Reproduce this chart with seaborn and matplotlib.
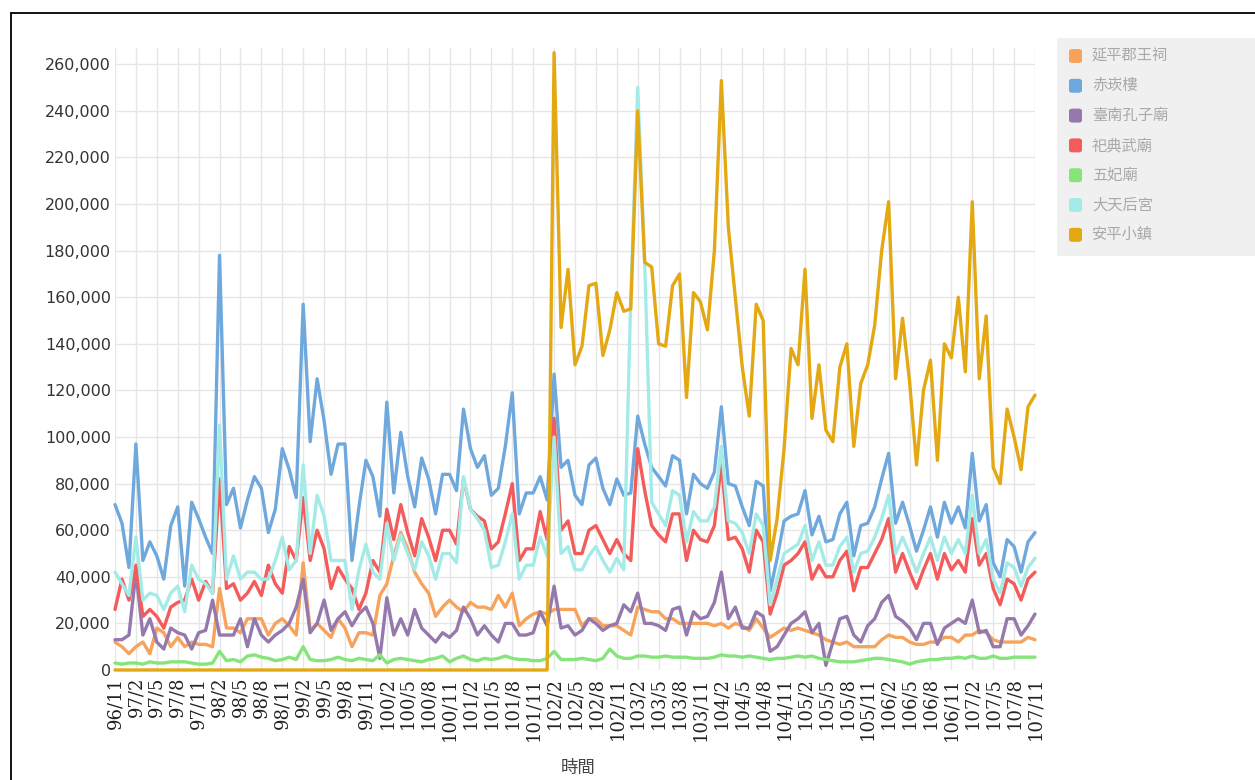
import matplotlib
matplotlib.use("Agg")
import matplotlib.pyplot as plt
import seaborn as sns
import pandas as pd
from matplotlib.patches import Rectangle, FancyBboxPatch
from matplotlib.lines import Line2D
from matplotlib.ticker import FuncFormatter

# month labels, ROC years: 96/11 .. 107/11
months = []
yy, mm = 96, 11
while (yy, mm) <= (107, 11):
    months.append(f"{yy}/{mm}")
    mm += 1
    if mm > 12:
        yy, mm = yy + 1, 1

site_names = ["延平郡王祠", "赤崁樓", "臺南孔子廟", "祀典武廟", "五妃廟", "大天后宮", "安平小鎮"]
site_colors = ["#f7a35c", "#6fa8dc", "#9579ad", "#f45b5b", "#86e57a", "#a4ebe8", "#e3a812"]

# monthly visitors, in thousands
yanping = [12, 10, 7, 10, 12, 7, 18, 16, 10, 14,
           10, 12, 11, 11, 10, 35, 18, 18, 16, 22,
           22, 22, 15, 20, 22, 19, 15, 46, 17, 20,
           17, 14, 22, 18, 10, 16, 16, 15, 32, 37,
           49, 59, 52, 42, 37, 33, 23, 27, 30, 27,
           25, 29, 27, 27, 26, 32, 27, 33, 19, 22,
           24, 25, 24, 26, 26, 26, 26, 19, 22, 22,
           19, 19, 19, 17, 15, 27, 26, 25, 25, 22,
           22, 20, 20, 20, 20, 20, 19, 20, 18, 20,
           19, 17, 22, 18, 14, 16, 18, 17, 18, 17,
           16, 15, 13, 12, 11, 12, 10, 10, 10, 10,
           13, 15, 14, 14, 12, 11, 11, 12, 12, 14,
           14, 12, 15, 15, 17, 16, 13, 12, 12, 12,
           12, 14, 13]

chikan = [71, 63, 44, 97, 47, 55, 49, 39, 62, 70,
          36, 72, 65, 57, 50, 178, 71, 78, 61, 73,
          83, 78, 59, 69, 95, 86, 74, 157, 98, 125,
          107, 84, 97, 97, 47, 70, 90, 83, 66, 115,
          76, 102, 83, 70, 91, 82, 67, 84, 84, 77,
          112, 95, 87, 92, 75, 78, 96, 119, 67, 76,
          76, 83, 73, 127, 87, 90, 75, 71, 88, 91,
          78, 71, 82, 75, 76, 109, 97, 87, 83, 79,
          92, 90, 67, 84, 80, 78, 85, 113, 80, 79,
          70, 62, 81, 79, 34, 48, 64, 66, 67, 77,
          58, 66, 55, 56, 67, 72, 49, 62, 63, 70,
          82, 93, 63, 72, 62, 51, 60, 70, 57, 72,
          63, 70, 61, 93, 64, 71, 46, 40, 56, 53,
          42, 55, 59]

kongzi = [13, 13, 15, 42, 15, 22, 12, 9, 18, 16,
          15, 9, 16, 17, 30, 15, 15, 15, 22, 10,
          22, 15, 12, 15, 17, 20, 27, 39, 16, 20,
          30, 17, 22, 25, 19, 24, 27, 20, 5, 31,
          15, 22, 15, 26, 18, 15, 12, 16, 14, 17,
          27, 22, 15, 19, 15, 12, 20, 20, 15, 15,
          16, 25, 19, 36, 18, 19, 15, 17, 22, 20,
          17, 19, 20, 28, 25, 33, 20, 20, 19, 17,
          26, 27, 15, 25, 22, 23, 29, 42, 22, 27,
          18, 18, 25, 23, 8, 10, 15, 20, 22, 25,
          16, 20, 2, 12, 22, 23, 15, 12, 19, 22,
          29, 32, 23, 21, 18, 13, 20, 20, 11, 18,
          20, 22, 20, 30, 16, 17, 10, 10, 22, 22,
          15, 19, 24]

wumiao = [26, 39, 30, 45, 23, 26, 23, 18, 27, 29,
          30, 39, 30, 38, 33, 82, 35, 37, 30, 33,
          38, 32, 45, 37, 33, 53, 47, 74, 47, 60,
          52, 35, 44, 39, 35, 26, 33, 47, 42, 69,
          56, 71, 59, 49, 65, 57, 47, 60, 60, 54,
          82, 69, 66, 64, 52, 55, 67, 80, 47, 52,
          52, 68, 56, 108, 60, 64, 50, 50, 60, 62,
          56, 50, 56, 50, 47, 95, 77, 62, 58, 55,
          67, 67, 47, 60, 56, 55, 62, 89, 56, 57,
          52, 42, 60, 55, 24, 33, 45, 47, 50, 55,
          39, 45, 40, 40, 47, 51, 34, 44, 44, 50,
          56, 65, 42, 50, 42, 35, 43, 50, 39, 50,
          43, 47, 42, 65, 45, 50, 35, 28, 39, 37,
          30, 39, 42]

wufei = [3, 2.5, 3, 3, 2.5, 3.5, 3, 3, 3.5, 3.5,
         3.5, 3, 2.5, 2.5, 3, 8, 4, 4.5, 3.5, 6,
         6.5, 5.5, 5, 4, 4.5, 5.5, 4.5, 10, 4.5, 4,
         4, 4.5, 5.5, 4.5, 4, 5, 4.5, 4, 6.5, 3,
         4.5, 5, 4.5, 4, 3.5, 4.5, 5, 6, 3.5, 5,
         6, 4.5, 4, 5, 4.5, 5, 6, 5, 4.5, 4.5,
         4, 4, 5, 8, 4.5, 4.5, 4.5, 5, 4.5, 4,
         5, 9, 6, 5, 5, 6, 6, 5.5, 5.5, 6,
         5.5, 5.5, 5.5, 5, 5, 5, 5.5, 6.5, 6, 6,
         5.5, 6, 5.5, 5, 4.5, 5, 5, 5.5, 6, 5.5,
         6, 5, 4.5, 4, 3.5, 3.5, 3.5, 4, 4.5, 5,
         5, 4.5, 4, 3.5, 2.5, 3.5, 4, 4.5, 4.5, 5,
         5, 5.5, 5, 6, 5, 5, 6, 5, 5, 5.5,
         5.5, 5.5, 5.5]

datianhou = [42, 37, 32, 57, 30, 33, 32, 26, 33, 36,
             25, 45, 39, 37, 33, 105, 39, 49, 39, 42,
             42, 39, 39, 47, 57, 43, 47, 88, 50, 75,
             66, 47, 47, 47, 26, 43, 54, 42, 39, 63,
             47, 58, 50, 43, 55, 49, 39, 50, 50, 46,
             83, 69, 65, 60, 44, 45, 55, 67, 39, 45,
             45, 57, 49, 100, 50, 53, 43, 43, 49, 53,
             47, 42, 48, 43, 160, 250, 175, 72, 67, 62,
             77, 75, 55, 68, 64, 64, 70, 96, 64, 63,
             59, 50, 67, 62, 28, 39, 50, 52, 54, 62,
             47, 55, 45, 45, 53, 57, 42, 50, 51, 57,
             65, 75, 50, 57, 50, 42, 50, 57, 47, 57,
             50, 56, 50, 75, 50, 56, 39, 33, 46, 44,
             36, 44, 48]

# 安平小鎮 reads 0 until 102/1
anping = [0] * 63 + [265, 147, 172, 131, 139, 165, 166,
                     135, 146, 162, 154, 155, 240, 175, 173, 140, 139,
                     165, 170, 117, 162, 158, 146, 180, 253, 190, 160,
                     130, 109, 157, 150, 47, 65, 95, 138, 131, 172,
                     108, 131, 103, 98, 130, 140, 96, 123, 131, 148,
                     180, 201, 125, 151, 124, 88, 120, 133, 90, 140,
                     134, 160, 128, 201, 125, 152, 87, 80, 112, 100,
                     86, 113, 118]

series = [yanping, chikan, kongzi, wumiao, wufei, datianhou, anping]

rows = []
for name, vals in zip(site_names, series):
    for i, v in enumerate(vals):
        rows.append({"idx": i, "month": months[i], "site": name, "visitors": v * 1000})
df = pd.DataFrame(rows)

sns.set_theme(style="white")
plt.rcParams["font.family"] = ["DejaVu Sans"]

W, H = 1255, 780
fig = plt.figure(figsize=(W / 100, H / 100), dpi=100)
ax = fig.add_axes([115 / W, 110 / H, 920 / W, 622 / H])

sns.lineplot(data=df, x="idx", y="visitors", hue="site", hue_order=site_names,
             palette=dict(zip(site_names, site_colors)), linewidth=2.4,
             estimator=None, sort=False, legend=False, ax=ax)
for ln in ax.get_lines():
    ln.set_clip_on(False)
    ln.set_solid_joinstyle("round")

ax.set_xlim(0, len(months) - 1)
ax.set_ylim(0, 267000)
ax.set_yticks(range(0, 260001, 20000))
ax.yaxis.set_major_formatter(FuncFormatter(lambda v, p: f"{int(v):,}"))
ax.set_xticks(range(0, len(months), 3))
ax.set_xticklabels(months[::3], rotation=90)
for lbl in ax.get_xticklabels():
    lbl.set_fontfamily("DejaVu Serif")
    lbl.set_fontsize(13)
    lbl.set_color("#222222")
ax.tick_params(axis="y", labelsize=11.5, colors="#333333", length=0, pad=3)
ax.tick_params(axis="x", length=0, pad=5)
ax.grid(True, color="#e6e6e6", linewidth=1)
ax.set_axisbelow(True)
for s in ax.spines.values():
    s.set_visible(False)
ax.set_xlabel("")
ax.set_ylabel("")

fig.text(578 / W, 1 - 768 / H, "時間", ha="center", va="center", fontsize=12.5,
         family=["Noto Sans CJK TC", "DejaVu Sans"], color="#444444")

# legend panel on the right
fig.patches.append(Rectangle((1057 / W, 1 - 256 / H), 198 / W, 218 / H,
                             transform=fig.transFigure, facecolor="#f0f0f0",
                             edgecolor="none", zorder=0))
for k, (name, col) in enumerate(zip(site_names, site_colors)):
    cy = 56 + 29.8 * k
    fig.patches.append(FancyBboxPatch((1069 / W, 1 - (cy + 7) / H), 13 / W, 14 / H,
                                      boxstyle="round,pad=0,rounding_size=0.003",
                                      transform=fig.transFigure, facecolor=col,
                                      edgecolor="none", zorder=1))
    fig.text(1092 / W, 1 - cy / H, name, ha="left", va="center", fontsize=11,
             family=["Noto Sans CJK TC", "DejaVu Sans"], color="#a9a9a9")

# outer frame of the screenshot (top and left edges)
fig.lines.append(Line2D([11 / W, 1.0], [1 - 13 / H, 1 - 13 / H], transform=fig.transFigure,
                        color="black", linewidth=1.3))
fig.lines.append(Line2D([11 / W, 11 / W], [0, 1 - 13 / H], transform=fig.transFigure,
                        color="black", linewidth=1.3))

fig.savefig("out.png", dpi=100, facecolor="white")
